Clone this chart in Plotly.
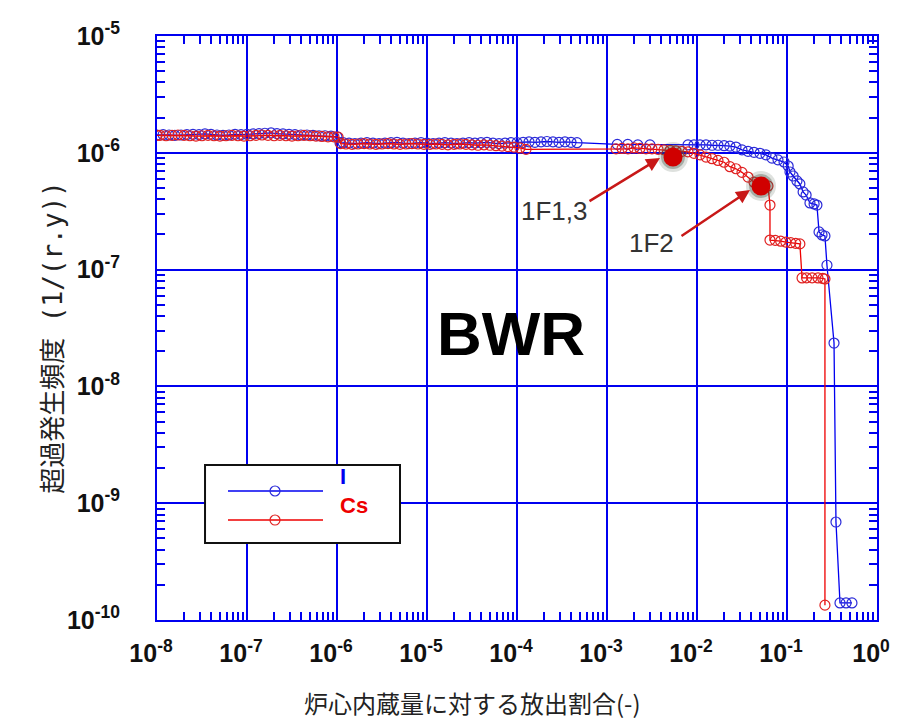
import numpy as np
import plotly.graph_objects as go

# Exceedance frequency (1/r.y) versus released fraction of core inventory, BWR
i_release = [
    1.00e-8, 1.17e-8, 1.36e-8, 1.58e-8, 1.85e-8, 2.15e-8, 2.51e-8, 2.93e-8, 3.41e-8, 3.98e-8,
    4.64e-8, 5.41e-8, 6.31e-8, 7.36e-8, 8.58e-8,
    1.00e-7, 1.17e-7, 1.36e-7, 1.58e-7, 1.85e-7, 2.15e-7, 2.51e-7, 2.93e-7, 3.41e-7, 3.98e-7,
    4.64e-7, 5.41e-7, 6.31e-7, 7.36e-7, 8.58e-7,
    1.00e-6, 1.08e-6,
    1.17e-6, 1.36e-6, 1.58e-6, 1.85e-6, 2.15e-6, 2.51e-6, 2.93e-6, 3.41e-6, 3.98e-6, 4.64e-6,
    5.41e-6, 6.31e-6, 7.36e-6, 8.58e-6,
    1.00e-5, 1.17e-5, 1.36e-5, 1.58e-5, 1.85e-5, 2.15e-5, 2.51e-5, 2.93e-5, 3.41e-5, 3.98e-5,
    4.64e-5, 5.41e-5, 6.31e-5, 7.36e-5, 8.58e-5,
    1.00e-4, 1.17e-4, 1.36e-4, 1.58e-4, 1.85e-4, 2.15e-4, 2.51e-4, 2.93e-4, 3.41e-4, 3.98e-4,
    4.64e-4,
    1.30e-3, 1.70e-3, 2.20e-3, 3.00e-3,
    7.94e-3, 9.26e-3, 1.08e-2, 1.26e-2, 1.47e-2, 1.71e-2, 2.00e-2, 2.32e-2, 2.71e-2,
    3.16e-2, 3.69e-2, 4.30e-2, 5.01e-2, 5.84e-2, 6.81e-2, 7.94e-2, 9.27e-2, 0.103, 0.108,
    0.117, 0.129, 0.139, 0.151, 0.163, 0.180, 0.200, 0.215, 0.227, 0.245,
    0.264, 0.278, 0.333, 0.350, 0.388, 0.453, 0.527,
]
i_freq = [
    1.42e-6, 1.43e-6, 1.42e-6, 1.41e-6, 1.42e-6, 1.43e-6, 1.44e-6, 1.43e-6, 1.45e-6, 1.44e-6,
    1.42e-6, 1.41e-6, 1.42e-6, 1.44e-6, 1.43e-6,
    1.44e-6, 1.45e-6, 1.46e-6, 1.47e-6, 1.48e-6, 1.46e-6, 1.45e-6, 1.44e-6, 1.43e-6, 1.42e-6,
    1.42e-6, 1.41e-6, 1.40e-6, 1.40e-6, 1.39e-6,
    1.37e-6, 1.22e-6,
    1.22e-6, 1.21e-6, 1.20e-6, 1.21e-6, 1.22e-6, 1.21e-6, 1.20e-6, 1.21e-6, 1.22e-6, 1.23e-6,
    1.21e-6, 1.20e-6, 1.21e-6, 1.22e-6,
    1.21e-6, 1.20e-6, 1.21e-6, 1.22e-6, 1.21e-6, 1.20e-6, 1.21e-6, 1.22e-6, 1.21e-6, 1.22e-6,
    1.23e-6, 1.21e-6, 1.20e-6, 1.21e-6, 1.22e-6,
    1.22e-6, 1.23e-6, 1.24e-6, 1.23e-6, 1.24e-6, 1.25e-6, 1.24e-6, 1.23e-6, 1.24e-6, 1.23e-6,
    1.22e-6,
    1.18e-6, 1.18e-6, 1.17e-6, 1.17e-6,
    1.17e-6, 1.17e-6, 1.17e-6, 1.17e-6, 1.16e-6, 1.16e-6, 1.15e-6, 1.14e-6, 1.12e-6,
    1.06e-6, 1.03e-6, 1.01e-6, 9.9e-7, 9.6e-7, 9.0e-7, 8.7e-7, 8.34e-7, 7.71e-7, 6.85e-7,
    6.33e-7, 5.74e-7, 5.41e-7, 4.62e-7, 4.35e-7, 3.72e-7, 3.65e-7, 3.57e-7, 2.10e-7, 1.98e-7,
    1.94e-7, 1.09e-7, 2.35e-8, 6.9e-10, 1.40e-10, 1.40e-10, 1.40e-10,
]

cs_release = [
    1.00e-8, 1.08e-8, 1.26e-8, 1.47e-8, 1.71e-8, 2.00e-8, 2.32e-8, 2.71e-8, 3.16e-8, 3.69e-8,
    4.30e-8, 5.01e-8, 5.84e-8, 6.81e-8, 7.94e-8, 9.26e-8,
    1.08e-7, 1.26e-7, 1.47e-7, 1.71e-7, 2.00e-7, 2.32e-7, 2.71e-7, 3.16e-7, 3.69e-7, 4.30e-7,
    5.01e-7, 5.84e-7, 6.81e-7, 7.94e-7, 9.26e-7,
    1.03e-6, 1.10e-6,
    1.26e-6, 1.47e-6, 1.71e-6, 2.00e-6, 2.32e-6, 2.71e-6, 3.16e-6, 3.69e-6, 4.30e-6, 5.01e-6,
    5.84e-6, 6.81e-6, 7.94e-6, 9.26e-6,
    1.08e-5, 1.26e-5, 1.47e-5, 1.71e-5, 2.00e-5, 2.32e-5, 2.71e-5, 3.16e-5, 3.69e-5, 4.30e-5,
    5.01e-5, 5.84e-5, 6.81e-5, 7.94e-5, 9.26e-5,
    1.08e-4, 1.26e-4,
    1.26e-3, 1.47e-3, 1.71e-3, 2.00e-3, 2.32e-3, 2.71e-3, 3.16e-3, 3.69e-3, 4.30e-3, 5.01e-3,
    5.84e-3, 6.81e-3, 7.94e-3, 9.26e-3, 1.08e-2, 1.26e-2, 1.47e-2, 1.71e-2, 2.00e-2, 2.32e-2,
    2.71e-2, 3.16e-2, 3.69e-2, 4.30e-2,
    6.15e-2, 6.47e-2, 6.47e-2, 7.40e-2, 8.50e-2, 9.70e-2, 0.110, 0.125, 0.139,
    0.147, 0.165, 0.190, 0.221, 0.250, 0.264, 0.264,
]
cs_freq = [
    1.41e-6, 1.41e-6, 1.40e-6, 1.41e-6, 1.42e-6, 1.41e-6, 1.40e-6, 1.39e-6, 1.40e-6, 1.41e-6,
    1.40e-6, 1.39e-6, 1.40e-6, 1.41e-6, 1.40e-6, 1.39e-6,
    1.40e-6, 1.41e-6, 1.42e-6, 1.41e-6, 1.40e-6, 1.41e-6, 1.40e-6, 1.39e-6, 1.40e-6, 1.41e-6,
    1.40e-6, 1.39e-6, 1.38e-6, 1.37e-6, 1.37e-6,
    1.36e-6, 1.20e-6,
    1.19e-6, 1.18e-6, 1.19e-6, 1.20e-6, 1.19e-6, 1.18e-6, 1.19e-6, 1.20e-6, 1.19e-6, 1.18e-6,
    1.19e-6, 1.20e-6, 1.19e-6, 1.18e-6,
    1.18e-6, 1.19e-6, 1.18e-6, 1.17e-6, 1.18e-6, 1.19e-6, 1.18e-6, 1.17e-6, 1.16e-6, 1.17e-6,
    1.16e-6, 1.15e-6, 1.14e-6, 1.13e-6, 1.12e-6,
    1.10e-6, 1.07e-6,
    1.08e-6, 1.09e-6, 1.08e-6, 1.10e-6, 1.09e-6, 1.08e-6, 1.08e-6, 1.07e-6, 1.06e-6, 1.05e-6,
    1.04e-6, 1.03e-6, 1.02e-6, 9.9e-7, 9.6e-7, 9.2e-7, 8.9e-7, 8.6e-7, 8.3e-7, 7.6e-7,
    7.3e-7, 6.8e-7, 6.2e-7, 5.6e-7,
    5.2e-7, 3.57e-7, 1.79e-7, 1.78e-7, 1.75e-7, 1.72e-7, 1.70e-7, 1.68e-7, 1.66e-7,
    8.48e-8, 8.50e-8, 8.50e-8, 8.48e-8, 8.40e-8, 8.31e-8, 1.34e-10,
]

# Estimated release fractions of Fukushima Daiichi units
unit_labels = ["1F1,3", "1F2"]
unit_release = [5.41e-3, 5.14e-2]
unit_freq = [9.2e-7, 5.2e-7]

x_tick_vals = [1e-8, 1e-7, 1e-6, 1e-5, 1e-4, 1e-3, 1e-2, 1e-1, 1e0]
x_tick_text = ["10<sup>-8</sup>", "10<sup>-7</sup>", "10<sup>-6</sup>", "10<sup>-5</sup>", "10<sup>-4</sup>",
               "10<sup>-3</sup>", "10<sup>-2</sup>", "10<sup>-1</sup>", "10<sup>0</sup>"]
y_tick_vals = [1e-10, 1e-9, 1e-8, 1e-7, 1e-6, 1e-5]
y_tick_text = ["10<sup>-10</sup>", "10<sup>-9</sup>", "10<sup>-8</sup>", "10<sup>-7</sup>",
               "10<sup>-6</sup>", "10<sup>-5</sup>"]

BLUE = "#0000f0"
RED = "#ee0000"
FONT = "Liberation Sans, Arial, sans-serif"
JP_FONT = "Noto Sans CJK JP, sans-serif"

fig = go.Figure()

fig.add_trace(go.Scatter(
    x=i_release, y=i_freq, mode="lines+markers", name="I",
    line=dict(color=BLUE, width=1.3),
    marker=dict(symbol="circle-open", size=10, color="#2a2ad8", line=dict(width=1.2)),
))
fig.add_trace(go.Scatter(
    x=cs_release, y=cs_freq, mode="lines+markers", name="Cs",
    line=dict(color=RED, width=1.3),
    marker=dict(symbol="circle-open", size=10, color="#e02020", line=dict(width=1.2)),
))

# Unit estimates: soft dark halo under a red dot
fig.add_trace(go.Scatter(
    x=unit_release, y=unit_freq, mode="markers", hoverinfo="skip",
    marker=dict(size=30, color="rgba(70,90,70,0.18)", line=dict(width=0)),
))
fig.add_trace(go.Scatter(
    x=unit_release, y=unit_freq, mode="markers", hoverinfo="skip",
    marker=dict(size=24, color="rgba(60,75,60,0.35)", line=dict(width=0)),
))
fig.add_trace(go.Scatter(
    x=unit_release, y=unit_freq, mode="markers", text=unit_labels,
    marker=dict(size=19, color="#d00000", line=dict(width=0)),
))

axis_common = dict(
    type="log", showgrid=True, gridcolor=BLUE, gridwidth=1.5,
    showline=True, linecolor=BLUE, linewidth=2, mirror="allticks",
    ticks="inside", ticklen=10, tickwidth=1.5, tickcolor=BLUE,
    tickmode="array", zeroline=False,
    tickfont=dict(family=FONT, size=25, color="#111111", weight="bold"),
    minor=dict(ticks="inside", ticklen=8, tickwidth=1.5, tickcolor=BLUE, dtick="D1", showgrid=False),
)

fig.update_xaxes(range=[-8, 0], tickvals=x_tick_vals, ticktext=x_tick_text,
                 ticklabelstandoff=10, ticklabelshift=-6, **axis_common)
fig.update_yaxes(range=[-10, -5], tickvals=y_tick_vals, ticktext=y_tick_text,
                 ticklabelstandoff=30, **axis_common)

annotations = []
# arrows from the labels to each unit point
arrow_specs = [
    dict(xshift=-13, yshift=-1, ax=-72, ay=44, tx=-118, ty=-54),
    dict(xshift=-11, yshift=-4, ax=-70, ay=47, tx=-109, ty=-57),
]
for lab, xr, yf, s in zip(unit_labels, unit_release, unit_freq, arrow_specs):
    annotations.append(dict(
        x=np.log10(xr), y=np.log10(yf), xref="x", yref="y", text="",
        showarrow=True, arrowhead=2, arrowsize=1.1, arrowwidth=2.5, arrowcolor="#c81818",
        ax=s["ax"], ay=s["ay"], xshift=s["xshift"], yshift=s["yshift"],
    ))
    annotations.append(dict(
        x=np.log10(xr), y=np.log10(yf), xref="x", yref="y", text=lab,
        showarrow=False, xshift=s["tx"], yshift=s["ty"],
        font=dict(family=FONT, size=26, color="#333333"),
    ))

annotations.append(dict(
    x=0.4917, y=0.4914, xref="paper", yref="paper", text="<b>BWR</b>", showarrow=False,
    font=dict(family=FONT, size=62, color="#000000"),
))
annotations.append(dict(
    x=0.4375, y=-0.174, xref="paper", yref="paper", text="炉心内蔵量に対する放出割合(-)",
    showarrow=False, font=dict(family=JP_FONT, size=24, color="#222222"),
))
annotations.append(dict(
    x=-0.1764, y=0.484, xref="paper", yref="paper",
    text="超過発生頻度<span style='font-family:DejaVu Sans Mono'> (1/(r.y))</span>",
    showarrow=False, textangle=-90, font=dict(family=JP_FONT, size=26, color="#222222"),
))

# hand-built legend box
leg_x0, leg_x1, leg_y0, leg_y1 = 0.0667, 0.3375, 0.1318, 0.2654
shapes = [dict(type="rect", xref="paper", yref="paper", x0=leg_x0, x1=leg_x1, y0=leg_y0, y1=leg_y1,
               line=dict(color="#111111", width=2), fillcolor="white", layer="above")]
legend_rows = [("I", BLUE, "#2a2ad8", 0.2209), ("Cs", RED, "#e02020", 0.1712)]
for name, lc, mc, yy in legend_rows:
    shapes.append(dict(type="line", xref="paper", yref="paper", x0=0.0986, x1=0.2306, y0=yy, y1=yy,
                       line=dict(color=lc, width=1.3), layer="above"))
    shapes.append(dict(type="circle", xref="paper", yref="paper", xsizemode="pixel", ysizemode="pixel",
                       xanchor=0.1639, yanchor=yy, x0=-5, x1=5, y0=-5, y1=5,
                       line=dict(color=mc, width=1.2), fillcolor="rgba(0,0,0,0)", layer="above"))
    annotations.append(dict(x=0.251, y=yy, xref="paper", yref="paper", xanchor="left",
                            text=f"<b>{name}</b>", showarrow=False,
                            font=dict(family=FONT, size=22, color=lc)))

fig.update_layout(
    width=903, height=722,
    margin=dict(l=157, r=26, t=36, b=102),
    plot_bgcolor="white", paper_bgcolor="white",
    showlegend=False, annotations=annotations, shapes=shapes,
)

fig.write_html("out.html")
